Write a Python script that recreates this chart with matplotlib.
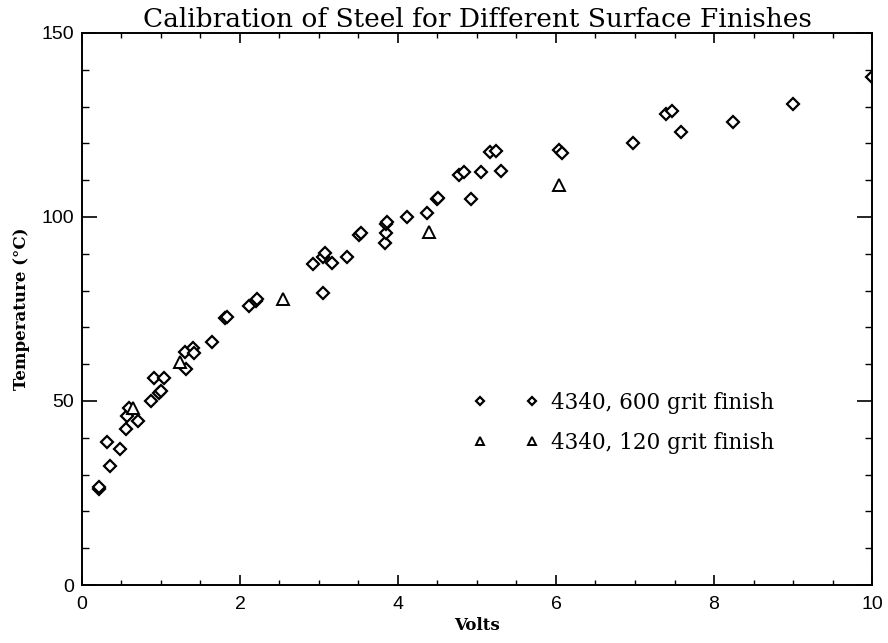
import matplotlib
matplotlib.use("Agg")
import matplotlib.pyplot as plt
from matplotlib.ticker import MultipleLocator

# 4340 steel, 600 grit finish
volts_600 = [0.21, 0.22, 0.32, 0.35, 0.48, 0.56, 0.57, 0.60, 0.71, 0.87, 0.91,
             0.98, 1.00, 1.04, 1.30, 1.32, 1.41, 1.42, 1.65, 1.81, 1.83, 2.12,
             2.20, 2.22, 2.92, 3.05, 3.08, 3.05, 3.17, 3.35, 3.51, 3.53, 3.84,
             3.85, 3.85, 3.86, 4.11, 4.37, 4.49, 4.51, 4.77, 4.83, 4.93, 5.05,
             5.17, 5.24, 5.31, 6.04, 6.07, 6.97, 7.39, 7.47, 7.58, 8.24, 9.00,
             10.0]
temp_600 = [26.2, 26.6, 38.9, 32.3, 37.0, 42.5, 45.8, 48.1, 44.6, 50.1, 56.2,
            52.1, 52.6, 56.3, 63.2, 58.7, 64.3, 63.1, 66.1, 72.5, 72.9, 75.8,
            77.2, 77.8, 87.2, 89.0, 90.1, 79.4, 87.4, 89.0, 95.2, 95.6, 93.0,
            95.6, 98.1, 98.6, 100.1, 101.2, 104.8, 105.2, 111.5, 112.3, 104.8,
            112.3, 117.6, 118.0, 112.6, 118.3, 117.4, 120.2, 127.9, 128.8,
            123.0, 125.8, 130.8, 138.0]

# 4340 steel, 120 grit finish
volts_120 = [0.65, 1.24, 2.55, 4.39, 6.04]
temp_120 = [48.0, 60.7, 77.7, 96.0, 108.7]

TITLE = "Calibration of Steel for Different Surface Finishes"
SERIF = "DejaVu Serif"
SANS = "Liberation Sans"

fig = plt.figure(figsize=(8.88, 6.43), dpi=100)
ax = fig.add_axes([0.0923, 0.0902, 0.8897, 0.8585])

ax.plot(volts_600, temp_600, linestyle="none", marker="D", ms=6.5,
        mfc="white", mec="black", mew=1.6,
        label="4340, 600 grit finish")
ax.plot(volts_120, temp_120, linestyle="none", marker="^", ms=8.5,
        mfc="white", mec="black", mew=1.4,
        label="4340, 120 grit finish")

ax.set_xlim(0, 10)
ax.set_ylim(0, 150)

ax.xaxis.set_major_locator(MultipleLocator(2))
ax.xaxis.set_minor_locator(MultipleLocator(0.5))
ax.yaxis.set_major_locator(MultipleLocator(50))
ax.yaxis.set_minor_locator(MultipleLocator(10))

ax.tick_params(axis="both", which="both", direction="in",
               top=True, right=True, color="black")
ax.tick_params(axis="x", which="major", length=7.5, width=1.2, pad=8)
ax.tick_params(axis="x", which="minor", length=3.8, width=1.0)
ax.tick_params(axis="y", which="major", length=11, width=1.2, pad=6)
ax.tick_params(axis="y", which="minor", length=5.2, width=1.0)

for lab in ax.get_xticklabels() + ax.get_yticklabels():
    lab.set_fontfamily(SANS)
    lab.set_fontsize(14)

for sp in ax.spines.values():
    sp.set_linewidth(1.4)

ax.set_title(TITLE, fontfamily=SERIF, fontsize=19, pad=4)
ax.set_xlabel("Volts", fontfamily=SERIF, fontsize=12, fontweight="bold",
              labelpad=3)
ax.set_ylabel("Temperature (\u00b0C)", fontfamily=SERIF, fontsize=12,
              fontweight="bold", labelpad=8)

ax.legend(loc="center left", bbox_to_anchor=(0.471, 0.294), frameon=False,
          numpoints=2, handlelength=3.0, handletextpad=0.6, markerscale=0.7,
          labelspacing=0.85, prop={"family": SERIF, "size": 15.5})

fig.savefig("out.png", dpi=100)
